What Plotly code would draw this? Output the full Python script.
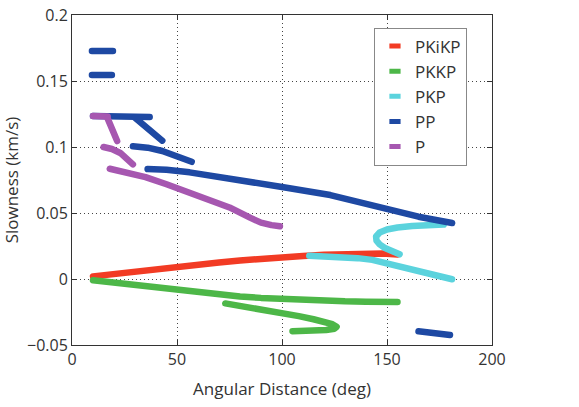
import plotly.graph_objects as go

# ---- data (deg, s/km) ----
pkikp_x = [10, 20, 30, 40, 50, 60, 70, 80, 90, 100, 110, 120, 130, 140, 148, 155]
pkikp_y = [0.002, 0.0039, 0.0058, 0.0076, 0.0093, 0.011, 0.0125, 0.014, 0.0155, 0.0166, 0.0175, 0.0183, 0.0189, 0.0193, 0.0193, 0.0186]

pkkp_x = [10, 20, 30, 40, 50, 60, 70, 80, 90, 100, 110, 120, 130, 140, 155, None,
          73, 80, 90, 100, 108, 115, 120, 124, 126, 125, 121, 114, 105]
pkkp_y = [-0.001, -0.0028, -0.0046, -0.0065, -0.0083, -0.0102, -0.0118, -0.0132, -0.0143, -0.0152, -0.0159, -0.0165, -0.0169, -0.0172, -0.0174, None,
          -0.0185, -0.0202, -0.0228, -0.0258, -0.0281, -0.0305, -0.0322, -0.0342, -0.0362, -0.0377, -0.0387, -0.0393, -0.0395]

pkp_x = [177, 170, 162, 155, 150, 146.5, 144.8, 145, 146.5, 149, 152.5, 156, None,
         113, 120, 128, 136, 143, 151, 158, 165, 172, 181]
pkp_y = [0.0412, 0.0409, 0.0402, 0.039, 0.0375, 0.0352, 0.0322, 0.029, 0.0262, 0.0235, 0.021, 0.0187, None,
         0.0176, 0.0173, 0.0167, 0.0158, 0.0145, 0.0112, 0.0085, 0.0058, 0.003, -0.0002]

pp_x = [9.5, 19.5, None, 9.5, 19, None,
        10, 20, 30, 37, None,
        30, 33, 36, 40, 43, None,
        29, 36, 43, 50, 57, None,
        36, 45, 56, 66, 80, 100, 123, 140, 150, 165, 181, None,
        165, 172, 180]
pp_y = [0.1727, 0.1727, None, 0.1545, 0.1545, None,
        0.1235, 0.1235, 0.1233, 0.1227, None,
        0.1222, 0.1178, 0.1135, 0.109, 0.1048, None,
        0.1005, 0.0995, 0.097, 0.0935, 0.0888, None,
        0.0833, 0.0828, 0.0808, 0.078, 0.0745, 0.0697, 0.0636, 0.0568, 0.0522, 0.0472, 0.0424, None,
        -0.0396, -0.041, -0.0424]

p_x = [10, 14, 17, None,
       17, 18.5, 20, 21.5, None,
       15, 19, 23, 26, 29, None,
       18, 25, 35, 45, 55, 65, 75, 85, 90, 95, 99]
p_y = [0.1235, 0.1235, 0.1232, None,
       0.1215, 0.1165, 0.1105, 0.1045, None,
       0.1, 0.0985, 0.0955, 0.0915, 0.0868, None,
       0.0835, 0.0812, 0.0772, 0.0718, 0.0662, 0.0605, 0.0542, 0.0463, 0.0427, 0.0408, 0.0399]

names = ["PKiKP", "PKKP", "PKP", "PP", "P"]
colors = ["#F23B24", "#4DB748", "#5BD3DD", "#1E49A3", "#A657B0"]
xs = [pkikp_x, pkkp_x, pkp_x, pp_x, p_x]
ys = [pkikp_y, pkkp_y, pkp_y, pp_y, p_y]

x_ticks = [0, 50, 100, 150, 200]
y_ticks = [-0.05, 0, 0.05, 0.1, 0.15, 0.2]
y_tick_text = ["\u22120.05", "0", "0.05", "0.1", "0.15", "0.2"]

fig = go.Figure()
for n, c, x, y in zip(names, colors, xs, ys):
    fig.add_trace(go.Scatter(x=x, y=y, mode="lines", name=n, showlegend=False,
                             line=dict(color=c, width=6.5), connectgaps=False))
for n, c in zip(names, colors):
    fig.add_trace(go.Scatter(x=[None], y=[None], mode="markers", name=n,
                             marker=dict(symbol="line-ew", size=8, color=c,
                                         line=dict(color=c, width=5))))

font_family = "Open Sans"
axis_common = dict(showline=True, linecolor="#333", linewidth=1, mirror="ticks",
                   ticks="inside", ticklen=5, tickcolor="#333", automargin=False,
                   showgrid=True, gridcolor="#444", griddash="1px,3px", gridwidth=1,
                   zeroline=False, tickfont=dict(size=16, color="#333", family=font_family))

fig.update_layout(
    width=579, height=407,
    margin=dict(l=72, r=87, t=15, b=62),
    paper_bgcolor="white", plot_bgcolor="white",
    font=dict(family=font_family, color="#333", size=16),
    xaxis=dict(range=[0, 200], tickvals=x_ticks,
               title=dict(text="Angular Distance (deg)", font=dict(size=17), standoff=13),
               **axis_common),
    yaxis=dict(range=[-0.05, 0.2], tickvals=y_ticks, ticktext=y_tick_text,
               title=dict(text="Slowness (km/s)", font=dict(size=17), standoff=19),
               **axis_common),
    legend=dict(x=0.719, y=0.962, xanchor="left", yanchor="top",
                bgcolor="white", bordercolor="#888", borderwidth=1,
                font=dict(size=17, color="#333", family=font_family),
                tracegroupgap=0, itemsizing="trace"),
)

post = ("document.querySelectorAll('.scatterlayer .js-line').forEach(function(p){"
        "p.style.strokeLinecap='round';p.style.strokeLinejoin='round';});"
        "document.querySelectorAll('.legend .scatterpts path').forEach(function(p){"
        "p.style.strokeLinecap='round';});")
fig.write_html("out.html", post_script=post)
